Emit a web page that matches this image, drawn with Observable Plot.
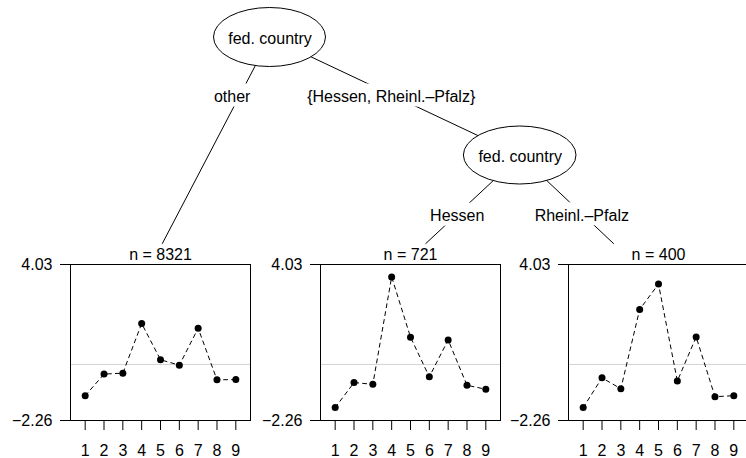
<!DOCTYPE html>
<html>
<head>
<meta charset="utf-8">
<script src="https://cdn.jsdelivr.net/npm/d3@7"></script>
<script src="https://cdn.jsdelivr.net/npm/@observablehq/plot@0.6"></script>
<style>
  body { margin: 0; background: #fff; }
  #chart { position: relative; width: 746px; height: 458px; overflow: hidden; background: #fff;
           font-family: "Liberation Sans", Arial, Helvetica, sans-serif; }
  #chart svg { position: absolute; background: transparent; }
</style>
</head>
<body>
<div id="chart"></div>
<script>
// ---- data ----
const categories = [1, 2, 3, 4, 5, 6, 7, 8, 9];
const seriesOther  = [-1.26, -0.39, -0.35, 1.65, 0.19, -0.03, 1.46, -0.62, -0.61];
const seriesHessen = [-1.74, -0.73, -0.80, 3.53, 1.10, -0.50, 0.99, -0.84, -1.00];
const seriesRheinl = [-1.74, -0.54, -0.98, 2.22, 3.24, -0.67, 1.11, -1.30, -1.26];
const nodeCounts = [8321, 721, 400];
const yTicks = [-2.26, 4.03];
const yDomain = [-2.26, 4.03];
const referenceValue = [0];
const nodeLabels = ["fed. country", "fed. country"];
const splitLabels = ["other", "{Hessen, Rheinl.\u2013Pfalz}", "Hessen", "Rheinl.\u2013Pfalz"];

// ---- tree layout (pixel positions of the diagram) ----
const innerNodes = [
  {x: 269.5, y: 37, rx: 56, ry: 29.5},
  {x: 519.7, y: 155, rx: 56.3, ry: 29}
];
const edges = [
  {x1: 269.5, y1: 37, x2: 161.7, y2: 243.3},
  {x1: 269.5, y1: 37, x2: 519.7, y2: 155},
  {x1: 519.7, y1: 155, x2: 425, y2: 243.3},
  {x1: 519.7, y1: 155, x2: 613.3, y2: 243.3}
];
const labelPos = [
  {x: 231.7, y: 101.5},
  {x: 390.7, y: 101.5},
  {x: 456.7, y: 220.7},
  {x: 581.3, y: 220.3}
];
const panelLefts = [0, 250, 498];

const FONT_FAMILY = "'Liberation Sans', Arial, Helvetica, sans-serif";
const chart = document.getElementById("chart");

const ctx = document.createElement("canvas").getContext("2d");
ctx.font = "16px 'Liberation Sans'";
const labelData = splitLabels.map((t, i) => ({text: t, x: labelPos[i].x, y: labelPos[i].y, w: ctx.measureText(t).width}));

const ellipseMark = () => {
  const g = d3.create("svg:g");
  g.selectAll("ellipse").data(innerNodes).join("ellipse")
    .attr("cx", d => d.x).attr("cy", d => d.y)
    .attr("rx", d => d.rx).attr("ry", d => d.ry)
    .attr("fill", "white").attr("stroke", "black").attr("stroke-width", 1);
  return g.node();
};

const tree = Plot.plot({
  width: 746, height: 458, margin: 0,
  x: {type: "identity", axis: null},
  y: {type: "identity", axis: null},
  style: {fontFamily: FONT_FAMILY, fontSize: "16px", background: "transparent", color: "black"},
  marks: [
    Plot.link(edges, {x1: "x1", y1: "y1", x2: "x2", y2: "y2", stroke: "black", strokeWidth: 1}),
    Plot.rect(labelData, {x1: d => d.x - d.w / 2 - 3, x2: d => d.x + d.w / 2 + 3, y1: d => d.y - 18, y2: d => d.y + 5, fill: "white"}),
    Plot.text(labelData, {x: "x", y: "y", text: "text", lineAnchor: "bottom", fontSize: 16, fill: "black"}),
    ellipseMark,
    Plot.text(innerNodes, {x: "x", y: d => d.y + 6.3, text: (d, i) => nodeLabels[i], lineAnchor: "bottom", fontSize: 16, fill: "black"})
  ]
});
tree.style.left = "0px";
tree.style.top = "0px";
chart.appendChild(tree);

const fmt = d => (d < 0 ? "\u2212" : "") + Math.abs(d).toFixed(2);

function panel(values, n, left) {
  const data = categories.map((c, i) => ({x: c, y: values[i]}));
  const svg = Plot.plot({
    width: 252, height: 218,
    marginLeft: 70, marginRight: 2, marginTop: 24, marginBottom: 38,
    x: {domain: [0.22, 9.78], ticks: categories, tickSize: 10, tickPadding: 14, tickFormat: d => String(d), label: null},
    y: {domain: yDomain, ticks: yTicks, tickSize: 10, tickPadding: 8, tickFormat: fmt, label: null},
    style: {fontFamily: FONT_FAMILY, fontSize: "16px", background: "transparent", color: "black"},
    marks: [
      Plot.ruleY(referenceValue, {stroke: "#d3d3d3", strokeWidth: 1}),
      Plot.frame({stroke: "black", strokeWidth: 1}),
      Plot.line(data, {x: "x", y: "y", stroke: "black", strokeWidth: 1, strokeDasharray: "4,4"}),
      Plot.dot(data, {x: "x", y: "y", r: 3.5, fill: "black", stroke: "none"}),
      Plot.text([`n = ${n}`], {text: d => d, frameAnchor: "top", dy: -4.5, lineAnchor: "bottom", fontSize: 16, fill: "black"})
    ]
  });
  svg.style.left = left + "px";
  svg.style.top = "240px";
  chart.appendChild(svg);
}

panel(seriesOther, nodeCounts[0], panelLefts[0]);
panel(seriesHessen, nodeCounts[1], panelLefts[1]);
panel(seriesRheinl, nodeCounts[2], panelLefts[2]);
</script>
</body>
</html>
